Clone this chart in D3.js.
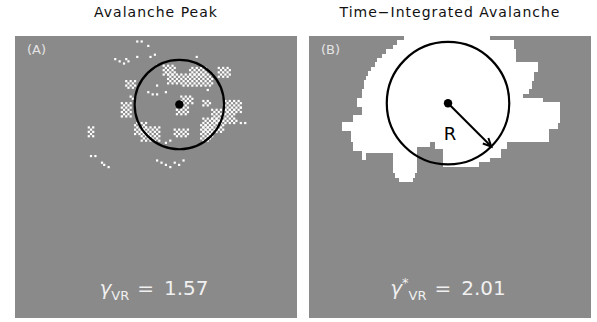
<!DOCTYPE html>
<html lang="en">
<head>
<meta charset="UTF-8">
<title>Avalanche Peak / Time-Integrated Avalanche</title>
<script src="https://d3js.org/d3.v7.min.js"></script>
<style>
  body { margin: 0; background: #fff; }
  text { font-family: "DejaVu Sans", sans-serif; }
</style>
</head>
<body>
<svg id="chart" width="597" height="322"></svg>
<script>
// lattice size (cells per side)
const gridN = 128;

const titles = ["Avalanche Peak", "Time\u2212Integrated Avalanche"];
const panelTags = ["(A)", "(B)"];
const gammaValues = ["1.57", "2.01"];

// Panel A: active-site patches [row0, row1, col0, col1], filled as a checkerboard
const peakPatches = [
  [13, 18, 67, 73], [17, 22, 69, 76],
  [14, 18, 79, 87], [17, 23, 76, 90],
  [14, 19, 92, 98],
  [20, 24, 50, 55],
  [27, 31, 75, 81], [31, 36, 73, 79],
  [29, 32, 85, 89],
  [29, 35, 95, 103], [33, 40, 89, 100], [37, 44, 85, 95], [40, 46, 84, 90],
  [30, 37, 48, 53],
  [39, 45, 54, 60], [41, 48, 57, 66],
  [42, 46, 72, 79],
  [46, 48, 84, 89],
  [41, 46, 33, 36]
];
// Panel A: isolated active sites [row, col]
const peakDots = [
  [2, 55], [2, 57], [4, 60], [10, 45], [11, 47], [12, 49], [10, 50], [11, 51],
  [9, 55], [9, 61], [8, 63], [9, 82], [13, 64], [25, 60], [26, 62], [26, 64],
  [25, 68], [27, 52], [28, 53], [32, 102], [38, 100], [39, 102], [39, 104],
  [54, 34], [54, 36], [58, 40], [59, 42], [57, 39], [56, 64], [57, 66],
  [58, 68], [59, 70], [57, 72], [58, 74], [56, 76], [48, 68], [47, 70],
  [22, 64], [24, 87]
];

// Panel B: toppled region as row bands [row0, row1, col0, col1]
const areaBands = [
  [0, 2, 43, 82], [2, 4, 40, 93], [4, 6, 38, 93], [6, 8, 35, 94],
  [8, 10, 33, 94], [10, 12, 31, 94], [12, 14, 30, 104], [14, 16, 28, 104],
  [16, 18, 27, 102], [18, 20, 26, 102], [20, 24, 25, 101], [24, 26, 24, 100],
  [26, 28, 24, 97], [28, 30, 22, 106], [30, 32, 22, 114], [32, 36, 24, 114],
  [36, 39, 20, 114], [39, 42, 15, 113], [42, 43, 15, 109], [43, 48, 19, 109],
  [48, 50, 20, 55], [48, 50, 57, 90],
  [50, 51, 20, 49], [50, 51, 57, 90],
  [51, 52, 20, 49], [51, 52, 61, 87],
  [52, 53, 24, 49], [52, 53, 61, 87],
  [53, 55, 24, 26], [53, 55, 38, 49], [53, 55, 61, 87],
  [55, 56, 24, 26], [55, 56, 38, 49], [55, 56, 61, 82],
  [56, 57, 38, 49], [56, 57, 61, 82],
  [57, 59, 38, 49], [57, 59, 61, 77],
  [59, 62, 38, 49], [62, 64, 39, 48], [64, 66, 41, 47]
];

// radius-of-gyration circles, in lattice units
const peakCircle = { col: 74.6, row: 31.1, r: 20.3 };
const areaCircle = { col: 63.1, row: 30.5, r: 27.8 };

const svg = d3.select("#chart");
const size = 282;
const panels = [{ x: 15, y: 36 }, { x: 309, y: 36 }];
const gray = "#8a8a8a";

panels.forEach((p, i) => {
  p.sx = d3.scaleLinear().domain([0, gridN]).range([p.x, p.x + size]);
  p.sy = d3.scaleLinear().domain([0, gridN]).range([p.y, p.y + size]);
  p.g = svg.append("g");
  p.g.append("rect")
    .attr("x", p.x).attr("y", p.y)
    .attr("width", size).attr("height", size)
    .attr("fill", gray);

  svg.append("text")
    .attr("x", p.x + size / 2).attr("y", 17)
    .attr("text-anchor", "middle")
    .attr("font-size", 14).attr("letter-spacing", 1)
    .attr("fill", "#111")
    .text(titles[i]);

  svg.append("text")
    .attr("x", p.x + 12).attr("y", 54)
    .attr("font-size", 13)
    .attr("fill", "#e4e4e4")
    .text(panelTags[i]);
});

const cell = size / gridN;

// Panel A cells
const pA = panels[0];
let peakCells = [];
peakPatches.forEach(([r0, r1, c0, c1]) => {
  for (let r = r0; r < r1; r++)
    for (let c = c0; c < c1; c++)
      if ((r + c) % 2 === 0) peakCells.push([r, c]);
});
peakCells = peakCells.concat(peakDots);

pA.g.selectAll("rect.site")
  .data(peakCells)
  .enter().append("rect")
  .attr("class", "site")
  .attr("x", d => pA.sx(d[1]))
  .attr("y", d => pA.sy(d[0]))
  .attr("width", cell).attr("height", cell)
  .attr("fill", "#fff");

// Panel B region
const pB = panels[1];
pB.g.selectAll("rect.band")
  .data(areaBands)
  .enter().append("rect")
  .attr("class", "band")
  .attr("x", d => pB.sx(d[2]))
  .attr("y", d => pB.sy(d[0]))
  .attr("width", d => pB.sx(d[3]) - pB.sx(d[2]))
  .attr("height", d => pB.sy(d[1]) - pB.sy(d[0]) + 0.6)
  .attr("shape-rendering", "crispEdges")
  .attr("fill", "#fff");

// circles and centres
[[pA, peakCircle], [pB, areaCircle]].forEach(([p, c]) => {
  const cx = p.sx(c.col), cy = p.sy(c.row);
  const rad = p.sx(c.r) - p.sx(0);
  p.g.append("circle")
    .attr("cx", cx).attr("cy", cy).attr("r", rad)
    .attr("fill", "none").attr("stroke", "#000").attr("stroke-width", 2.2);
  p.g.append("circle")
    .attr("cx", cx).attr("cy", cy).attr("r", 4.2)
    .attr("fill", "#000");
  c.px = { cx, cy, rad };
});

// radius arrow in panel B
const ac = areaCircle.px;
const ang = Math.PI / 4;
const ex = ac.cx + ac.rad * Math.cos(ang), ey = ac.cy + ac.rad * Math.sin(ang);
pB.g.append("line")
  .attr("x1", ac.cx).attr("y1", ac.cy).attr("x2", ex).attr("y2", ey)
  .attr("stroke", "#000").attr("stroke-width", 2);
const head = 9;
pB.g.append("path")
  .attr("d", d3.line()([
    [ex - head * Math.cos(ang - 0.45), ey - head * Math.sin(ang - 0.45)],
    [ex, ey],
    [ex - head * Math.cos(ang + 0.45), ey - head * Math.sin(ang + 0.45)]
  ]))
  .attr("fill", "none").attr("stroke", "#000").attr("stroke-width", 2);
pB.g.append("text")
  .attr("x", ac.cx + 2).attr("y", 140)
  .attr("text-anchor", "middle")
  .attr("font-size", 18).attr("fill", "#000")
  .text("R");

// gamma labels
panels.forEach((p, i) => {
  const t = svg.append("text")
    .attr("x", p.x + size / 2 - 2).attr("y", 295)
    .attr("text-anchor", "middle")
    .attr("font-family", "Roboto, sans-serif")
    .attr("font-size", 20)
    .attr("fill", "#f0f0f0");
  t.append("tspan")
    .attr("font-family", "DejaVu Sans, sans-serif")
    .attr("font-style", "italic")
    .text("\u03b3");
  if (i === 1) t.append("tspan").attr("dy", -8).attr("font-size", 13).text("*");
  t.append("tspan").attr("dy", i === 1 ? 13 : 5).attr("font-size", 13).text("VR");
  t.append("tspan").attr("dy", -5).attr("dx", 8).text("=");
  t.append("tspan").attr("dx", 10).text(gammaValues[i]);
});
</script>
</body>
</html>
